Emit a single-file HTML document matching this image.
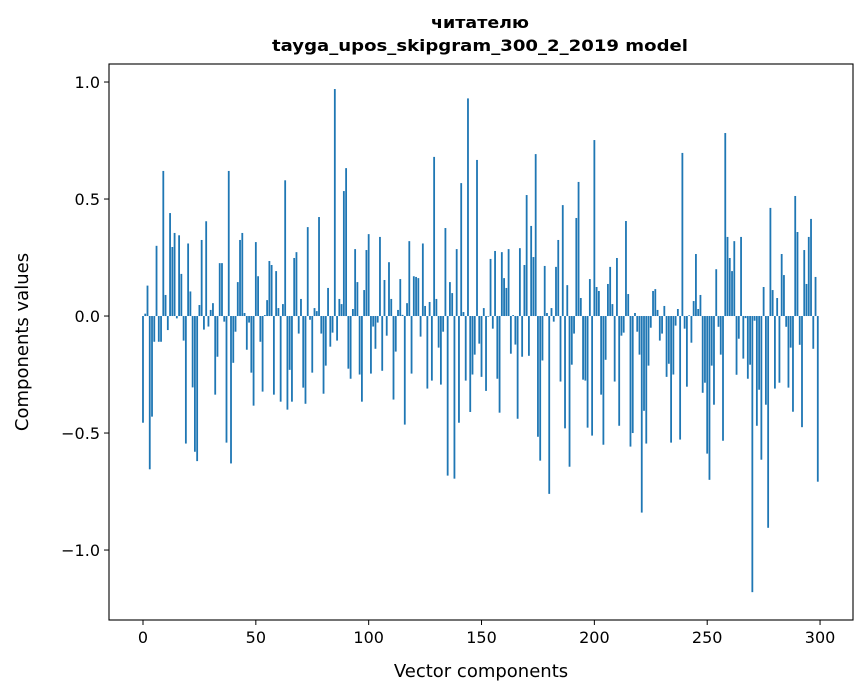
<!DOCTYPE html>
<html><head><meta charset="utf-8"><style>
html,body{margin:0;padding:0;background:#fff;}
svg{display:block;font-family:"DejaVu Sans","Liberation Sans",sans-serif;}
</style></head><body>
<svg id="chart" width="867" height="696" viewBox="0 0 867 696" xmlns="http://www.w3.org/2000/svg">
<rect width="867" height="696" fill="#fff"/>
<text x="480" y="28" text-anchor="middle" font-size="16" font-weight="bold" textLength="98" lengthAdjust="spacingAndGlyphs">читателю</text>
<text x="480" y="51" text-anchor="middle" font-size="16" font-weight="bold" textLength="416" lengthAdjust="spacingAndGlyphs">tayga_upos_skipgram_300_2_2019 model</text>
<g id="bars"></g>
<g id="axes"></g>
<text x="481" y="677" text-anchor="middle" font-size="18">Vector components</text>
<text transform="translate(28,342) rotate(-90)" text-anchor="middle" font-size="18">Components values</text>
</svg>
<script>
const values = [
-0.456,0.01,0.13,-0.655,-0.43,-0.11,0.30,-0.11,-0.11,0.62,
0.09,-0.06,0.44,0.295,0.355,-0.01,0.345,0.18,-0.105,-0.545,
0.31,0.105,-0.305,-0.58,-0.62,0.047,0.325,-0.058,0.405,-0.045,
0.026,0.055,-0.336,-0.174,0.226,0.226,-0.024,-0.541,0.62,-0.63,
-0.2,-0.067,0.145,0.325,0.355,0.013,-0.144,-0.028,-0.242,-0.383,
0.316,0.17,-0.11,-0.323,0.004,0.068,0.235,0.218,-0.336,0.192,
0.034,-0.366,0.051,0.58,-0.40,-0.23,-0.366,0.248,0.273,-0.075,
0.073,-0.306,-0.375,0.38,-0.016,-0.242,0.034,0.021,0.423,-0.075,
-0.332,-0.212,0.12,-0.131,-0.071,0.97,-0.105,0.073,0.051,0.534,
0.632,-0.225,-0.268,0.03,0.286,0.145,-0.25,-0.366,0.111,0.282,
0.35,-0.246,-0.045,-0.14,-0.028,0.338,-0.234,0.154,-0.084,0.23,
0.073,-0.357,-0.152,0.026,0.158,0.005,-0.464,0.055,0.32,-0.246,
0.17,0.167,0.162,-0.088,0.31,0.043,-0.31,0.06,-0.276,0.68,
0.073,-0.135,-0.293,-0.067,0.376,-0.682,0.145,0.098,-0.695,0.286,
-0.456,0.568,0.017,-0.276,0.93,-0.41,-0.25,-0.165,0.667,-0.118,
-0.26,0.034,-0.32,-0.003,0.244,-0.054,0.278,-0.268,-0.413,0.273,
0.162,0.12,0.286,-0.161,0.004,-0.122,-0.439,0.29,-0.174,0.218,
0.517,-0.17,0.385,0.252,0.692,-0.516,-0.618,-0.19,0.214,0.013,
-0.76,0.034,-0.024,0.21,0.325,-0.28,0.474,-0.48,0.132,-0.644,
-0.208,-0.075,0.419,0.573,0.077,-0.272,-0.276,-0.477,0.158,-0.511,
0.752,0.124,0.107,-0.336,-0.55,-0.187,0.137,0.21,0.051,-0.28,
0.248,-0.469,-0.084,-0.071,0.406,0.094,-0.558,-0.5,0.013,-0.067,
-0.165,-0.84,-0.405,-0.545,-0.212,-0.05,0.107,0.115,0.026,-0.105,
-0.075,0.043,-0.26,-0.204,-0.541,-0.25,-0.041,0.03,-0.528,0.697,
-0.054,-0.302,0.003,-0.114,0.064,0.265,0.03,0.09,-0.328,-0.285,
-0.588,-0.70,-0.212,-0.379,0.2,-0.046,-0.165,-0.533,0.782,0.338,
0.248,0.192,0.32,-0.251,-0.097,0.338,-0.182,-0.009,-0.268,-0.208,
-1.18,-0.02,-0.469,-0.315,-0.614,0.124,-0.379,-0.905,0.462,0.111,
-0.31,0.077,-0.285,0.265,0.175,-0.046,-0.306,-0.135,-0.409,0.513,
0.359,-0.123,-0.475,0.282,0.137,0.338,0.415,-0.14,0.167,-0.708
];
const xTicks = [0,50,100,150,200,250,300];
const yTicks = [-1.0,-0.5,0.0,0.5,1.0];
const yTickLabels = ["\u22121.0","\u22120.5","0.0","0.5","1.0"];

const L=109,R=853,T=64,B=620;
const xMin=-15.06,xMax=314.6,yMin=-1.299,yMax=1.077;
const xs=v=>L+(v-xMin)/(xMax-xMin)*(R-L);
const ys=v=>B-(v-yMin)/(yMax-yMin)*(B-T);
const NS="http://www.w3.org/2000/svg";
const bars=document.getElementById('bars');
const bw=xs(0.8)-xs(0);
values.forEach((v,i)=>{
  const r=document.createElementNS(NS,'rect');
  
  
  const y0=ys(0),y1=ys(v);
  r.setAttribute('x',xs(i)-bw/2);
  r.setAttribute('y',Math.min(y0,y1));
  r.setAttribute('width',bw);
  r.setAttribute('height',Math.abs(y1-y0));
  r.setAttribute('fill','#1f77b4');
  bars.appendChild(r);
});
const axes=document.getElementById('axes');
const frame=document.createElementNS(NS,'rect');


frame.setAttribute('x',L);frame.setAttribute('y',T);
frame.setAttribute('width',R-L);frame.setAttribute('height',B-T);
frame.setAttribute('fill','none');frame.setAttribute('stroke','#000');frame.setAttribute('stroke-width','1.1');
axes.appendChild(frame);
xTicks.forEach(t=>{
  const x=xs(t);
  const l=document.createElementNS(NS,'line');
  
  
  l.setAttribute('x1',x);l.setAttribute('x2',x);l.setAttribute('y1',B);l.setAttribute('y2',B+5);
  l.setAttribute('stroke','#000');
  axes.appendChild(l);
  const tx=document.createElementNS(NS,'text');
  
  
  tx.setAttribute('x',x);tx.setAttribute('y',B+23);
  tx.setAttribute('text-anchor','middle');tx.setAttribute('font-size','16');
  tx.textContent=String(t);
  axes.appendChild(tx);
});
yTicks.forEach((t,k)=>{
  const y=ys(t);
  const l=document.createElementNS(NS,'line');
  
  
  l.setAttribute('x1',L-5);l.setAttribute('x2',L);l.setAttribute('y1',y);l.setAttribute('y2',y);
  l.setAttribute('stroke','#000');
  axes.appendChild(l);
  const tx=document.createElementNS(NS,'text');
  
  
  tx.setAttribute('x',L-9);tx.setAttribute('y',y+6);
  tx.setAttribute('text-anchor','end');tx.setAttribute('font-size','16');
  tx.textContent=yTickLabels[k];
  axes.appendChild(tx);
});
</script>
</body></html>
